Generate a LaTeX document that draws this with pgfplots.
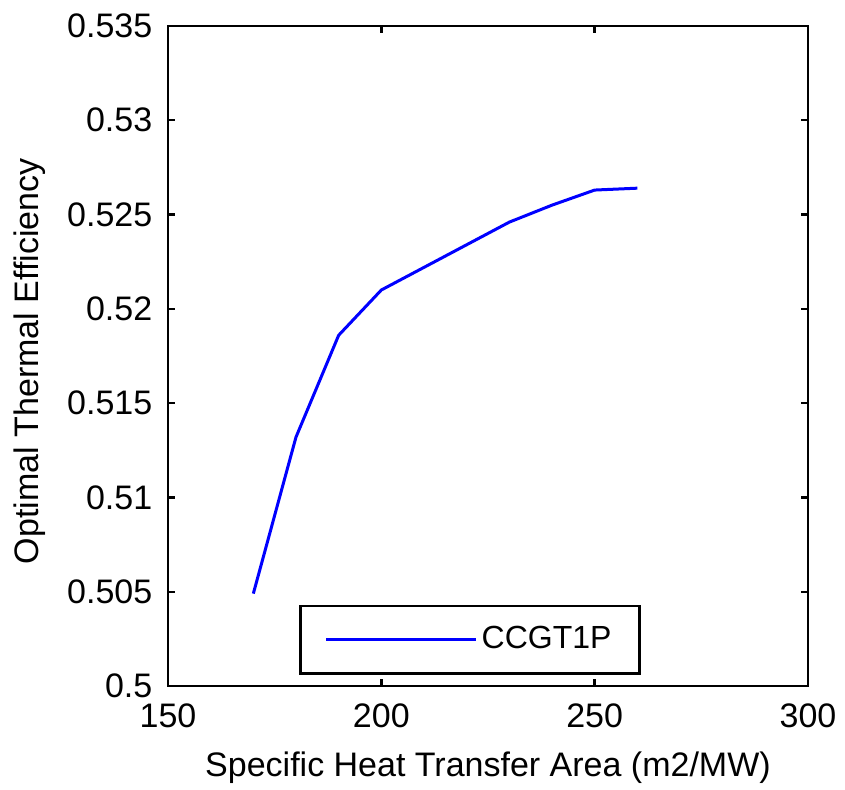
\documentclass[border=0pt]{standalone}
\usepackage{pgfplots}
\pgfplotsset{compat=1.18}
\usepackage{fontspec}
\setmainfont{Liberation Sans}

\begin{document}
\fontsize{17}{19}\selectfont
\begin{tikzpicture}
\begin{axis}[
    scale only axis,
    width=320pt, height=330pt,
    xmin=150, xmax=300, ymin=0.5, ymax=0.535,
    xtick={150,200,250,300},
    ytick={0.5,0.505,0.51,0.515,0.52,0.525,0.53,0.535},
    scaled y ticks=false,
    yticklabel style={xshift=-2pt, /pgf/number format/fixed, /pgf/number format/precision=3},
    xticklabel style={yshift=-3pt},
    /pgf/number format/assume math mode=true,
    tick align=inside, tick pos=both,
    major tick length=3.5pt,
    axis line style={line width=1.2pt},
    every tick/.style={black, line width=1.2pt},
    xlabel={Specific Heat Transfer Area (m2/MW)},
    ylabel={Optimal Thermal Efficiency},
    every axis x label/.style={at={(rel axis cs:0.5,0)}, anchor=center, yshift=-41pt},
    every axis y label/.style={at={(rel axis cs:-0.2156,0.492)}, rotate=90, anchor=center},
    legend style={at={(0.472,0.017)}, anchor=south, draw=black, line width=1.2pt,
        inner xsep=12pt, inner ysep=8pt, font=\fontsize{16}{18}\selectfont},
    legend cell align=left,
    legend image code/.code={\draw[#1, line width=1.5pt] (0pt,0pt) -- (71pt,0pt);
        \path (0pt,0pt) -- (75pt,0pt);},
]
\addplot[blue, line width=1.5pt] coordinates {
    (170,0.5049) (180,0.5132) (190,0.5186) (200,0.5210) (210,0.5222)
    (220,0.5234) (230,0.5246) (240,0.5255) (250,0.5263) (260,0.5264)
};
\addlegendentry{CCGT1P}
\end{axis}
\pgfresetboundingbox
\path[use as bounding box] ([shift={(-84pt,-51.5pt)}]current axis.south west)
    rectangle ([shift={(18.5pt,13pt)}]current axis.north east);
\end{tikzpicture}
\end{document}
